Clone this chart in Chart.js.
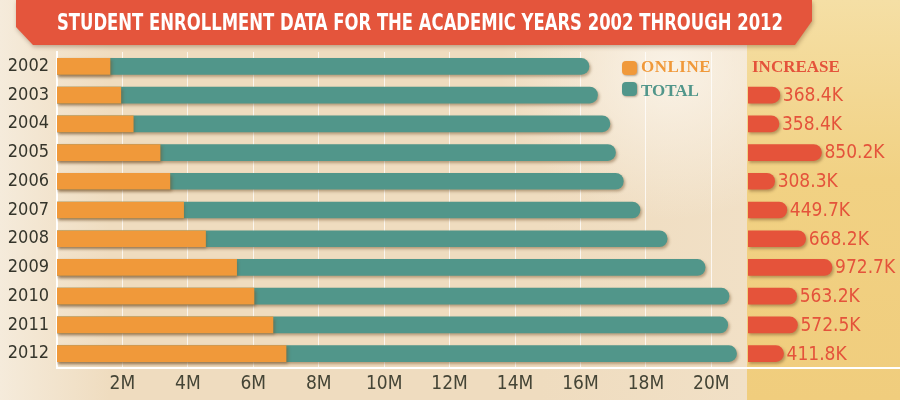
<!DOCTYPE html>
<html>
<head>
<meta charset="utf-8">
<script src="https://cdn.jsdelivr.net/npm/chart.js@4"></script>
<style>
  html, body { margin: 0; padding: 0; }
  #wrap {
    position: relative; width: 900px; height: 400px; overflow: hidden;
    background:
      radial-gradient(ellipse 170px 150px at 670px 70px, rgba(250,243,232,0.95), rgba(250,243,232,0)),
      linear-gradient(to right, #f5ebdb 0px, #efdcbf 110px, #efdcbf 540px, #f1e0c6 747px);
  }
  #panel {
    position: absolute; left: 747px; top: 0; width: 153px; height: 400px;
    background: linear-gradient(to bottom, #f5dfa5, #f1d183 45%, #f0cd7d);
  }
  #banner {
    position: absolute; left: 0; top: 0; width: 900px; height: 60px;
    filter: drop-shadow(1px 2px 2px rgba(90,50,20,0.35));
  }
  #banner .shape {
    position: absolute; left: 0; top: 0; width: 900px; height: 60px; background: #e4553c;
    clip-path: polygon(16px 0, 812px 0, 812px 21px, 795px 45px, 33px 45px, 16px 27px);
  }
  #title {
    position: absolute; left: 57px; top: 8px; white-space: nowrap;
    font: bold 23px 'Liberation Sans Narrow', 'DejaVu Sans Condensed', sans-serif;
    color: #fff; transform-origin: left center; line-height: 28px;
  }
  .box { position: absolute; }
  .mark {
    position: absolute; width: 15px; height: 14px; border-radius: 4px;
    box-shadow: 1px 1px 2px rgba(90,60,30,0.4);
  }
  .leg {
    position: absolute; font: bold 17px 'Liberation Serif', serif;
    line-height: 20px; white-space: nowrap;
  }
  #baseline { position: absolute; left: 57px; top: 367px; width: 843px; height: 2px; background: #fff; }
</style>
</head>
<body>
<div id="wrap">
  <div id="panel"></div>
  <div class="box" style="left:0;top:0;width:747px;height:400px"><canvas id="main" width="747" height="400"></canvas></div>
  <div class="box" style="left:747px;top:0;width:153px;height:400px"><canvas id="inc" width="153" height="400"></canvas></div>
  <div id="baseline"></div>
  <div id="banner"><div class="shape"></div><span id="title">STUDENT ENROLLMENT DATA FOR THE ACADEMIC YEARS 2002 THROUGH 2012</span></div>
  <div class="mark" style="left:622px;top:61px;background:#f0993a"></div>
  <div class="leg" style="left:641px;top:57px;color:#f0993a;letter-spacing:0.5px">ONLINE</div>
  <div class="mark" style="left:622px;top:82px;background:#51968a"></div>
  <div class="leg" style="left:641px;top:81px;color:#51968a">TOTAL</div>
  <div class="leg" style="left:752px;top:57px;color:#e4533b">INCREASE</div>
</div>
<script>
const years = ["2002", "2003", "2004", "2005", "2006", "2007", "2008", "2009", "2010", "2011", "2012"];
// millions of students
const onlineM = [1.62, 1.95, 2.33, 3.15, 3.45, 3.87, 4.54, 5.49, 6.02, 6.6, 7.0];
const totalM = [16.26, 16.52, 16.9, 17.07, 17.31, 17.82, 18.65, 19.81, 20.54, 20.5, 20.77];
// growth of online enrollment over previous year, thousands
const increaseK = [null, 368.4, 358.4, 850.2, 308.3, 449.7, 668.2, 972.7, 563.2, 572.5, 411.8];
const xTicks = [2, 4, 6, 8, 10, 12, 14, 16, 18, 20];

const narrow = "'Liberation Sans Narrow', 'DejaVu Sans Condensed', sans-serif";

const shadow = {
	id: "shadow",
	beforeDatasetsDraw(chart) {
		const ctx = chart.ctx;
		ctx.save();
		ctx.shadowColor = "rgba(110,75,35,0.45)";
		ctx.shadowBlur = 3;
		ctx.shadowOffsetX = 1.5;
		ctx.shadowOffsetY = 2;
	},
	afterDatasetsDraw(chart) {
		chart.ctx.restore();
	},
};

new Chart(document.getElementById("main"), {
	type: "bar",
	data: {
		labels: years,
		datasets: [
			{ label: "Online", data: onlineM, backgroundColor: "#f0993a", order: 0, borderRadius: 0 },
			{ label: "Total", data: totalM, backgroundColor: "#51968a", order: 1, borderRadius: 8 },
		],
	},
	options: {
		indexAxis: "y",
		responsive: false,
		animation: false,
		datasets: { bar: { grouped: false, barThickness: 16 } },
		layout: { padding: { top: 52, left: 0, right: 0, bottom: 0 } },
		plugins: { legend: { display: false }, tooltip: { enabled: false } },
		scales: {
			x: {
				min: 0,
				max: 21.09,
				afterBuildTicks: (s) => {
					s.ticks = xTicks.map((v) => ({ value: v }));
				},
				afterFit: (s) => { s.height = 32; },
				ticks: {
					padding: 5,
					color: "#454536",
					font: { family: narrow, size: 19 },
					callback: (v) => v + "M",
				},
				grid: { color: "rgba(255,255,255,0.75)", lineWidth: 1, drawTicks: false },
				border: { display: false },
			},
			y: {
				afterFit: (s) => { s.width = 57; },
				ticks: { padding: 8, color: "#35352b", font: { family: narrow, size: 18 } },
				grid: { display: false, drawTicks: false },
				border: { color: "#ffffff", width: 2 },
			},
		},
	},
	plugins: [shadow],
});

const incLabels = {
	id: "incLabels",
	afterDatasetsDraw(chart) {
		const ctx = chart.ctx;
		ctx.save();
		ctx.fillStyle = "#e4533b";
		ctx.font = "19px " + narrow;
		ctx.textBaseline = "middle";
		chart.getDatasetMeta(0).data.forEach((bar, i) => {
			if (increaseK[i] == null) return;
			ctx.fillText(increaseK[i].toFixed(1) + "K", bar.x + 3, bar.y + 1);
		});
		ctx.restore();
	},
};

new Chart(document.getElementById("inc"), {
	type: "bar",
	data: {
		labels: years,
		datasets: [{ label: "Increase", data: increaseK, backgroundColor: "#e5533a", borderRadius: 8, barThickness: 16 }],
	},
	options: {
		indexAxis: "y",
		responsive: false,
		animation: false,
		layout: { padding: { top: 52, left: 1, right: 0, bottom: 32 } },
		plugins: { legend: { display: false }, tooltip: { enabled: false } },
		scales: {
			x: { display: false, min: 0, max: 1760 },
			y: { display: false },
		},
	},
	plugins: [shadow, incLabels],
});

function fitTitle() {
	const t = document.getElementById("title");
	t.style.transform = "none";
	const w = t.getBoundingClientRect().width;
	t.style.transform = "scaleX(" + (726 / w) + ")";
}
fitTitle();
document.fonts.ready.then(fitTitle);
</script>
</body>
</html>
